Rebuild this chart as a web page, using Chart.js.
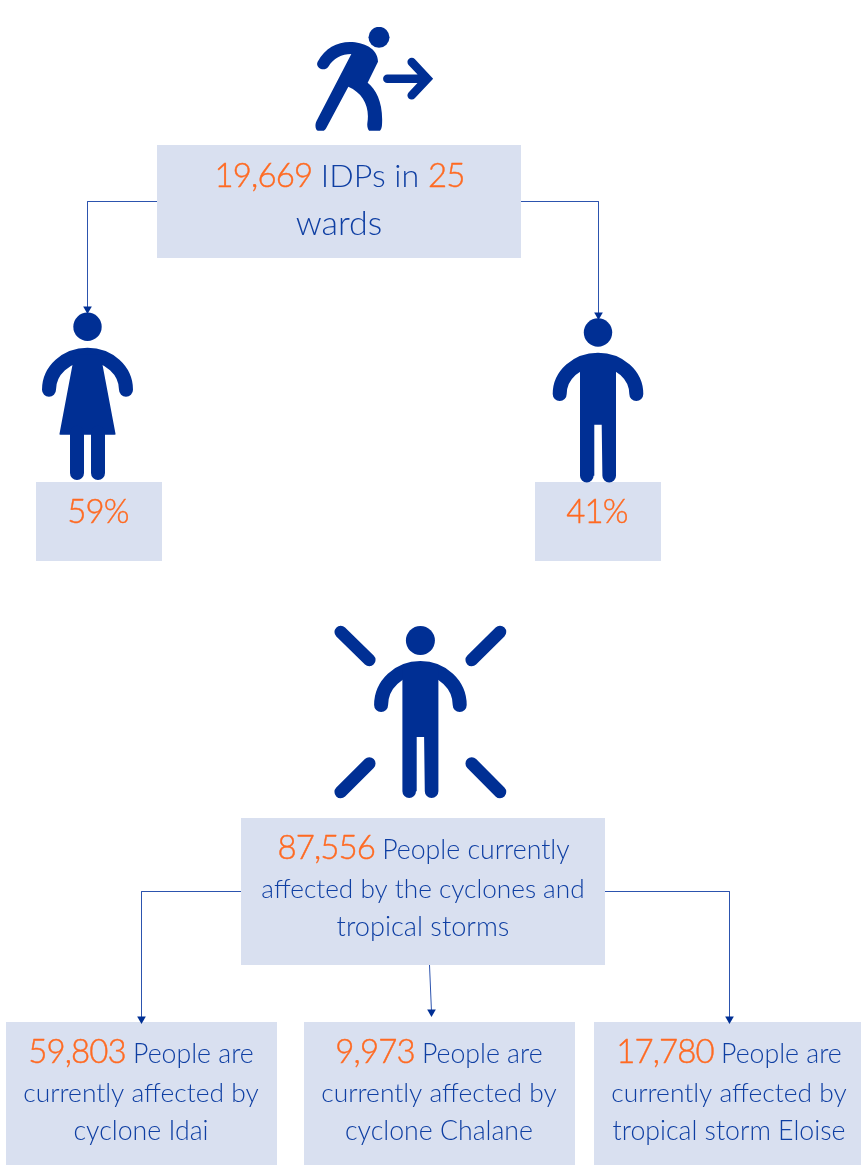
<!DOCTYPE html>
<html lang="en">
<head>
  <meta charset="UTF-8" />
  <title>IDPs and people affected by cyclones</title>
  <script src="https://cdn.jsdelivr.net/npm/chart.js"></script>
  <style>
    html, body { margin: 0; padding: 0; background: #fff; }
    canvas { display: block; }
  </style>
</head>
<body>
  <canvas id="chart" width="861" height="1165"></canvas>

  <script>
    // values
    const idpCount = [19669];
    const wardCount = [25];
    const genderShares = [59, 41];
    const totalAffected = [87556];
    const stormNames = ['cyclone Idai', 'cyclone Chalane', 'tropical storm Eloise'];
    const stormAffected = [59803, 9973, 17780];

    const NAVY = '#002F94';
    const BLUE = '#0F3FA3';
    const ORANGE = '#FF6A22';
    const BOX = '#D9E0F0';
    const LINE = '#2C53AE';

    const fmt = n => n.toLocaleString('en-US');
    const NUM = 33, TXT = 26.7;

    // connector paths, end in an arrow head
    const connectors = [
      [[157, 201.5], [87.5, 201.5], [87.5, 309]],
      [[521, 201.5], [598.5, 201.5], [598.5, 315]],
      [[241, 891.5], [141.5, 891.5], [141.5, 1019]],
      [[605, 891.5], [729.5, 891.5], [729.5, 1019]],
      [[429.5, 965], [431.5, 1012]]
    ];

    const boxes = [
      [157, 145, 521, 258],
      [36, 482, 162, 561],
      [535, 482, 661, 561],
      [241, 818, 605, 965],
      [6, 1022, 277, 1165],
      [304, 1022, 575, 1165],
      [594, 1022, 861, 1165]
    ];

    function stormLines(i, cx) {
      const last = stormNames[i];
      return [
        { cx, y: 1063, runs: [[fmt(stormAffected[i]), 1], [' People are', 0]] },
        { cx, y: 1102, size: 26.4, runs: [['currently affected by', 0]] },
        { cx, y: 1140, runs: [[last, 0]] }
      ];
    }

    const textLines = [
      { cx: 339.5, y: 187, size: 32.2, runs: [[fmt(idpCount[0]), 1], [' IDPs in ', 0], [String(wardCount[0]), 1]] },
      { cx: 339, y: 235, size: 34, runs: [['wards', 0]] },
      { cx: 98, y: 523, runs: [[genderShares[0] + '%', 1]] },
      { cx: 597, y: 523, runs: [[genderShares[1] + '%', 1]] },
      { cx: 423.5, y: 858.5, runs: [[fmt(totalAffected[0]), 1], [' People currently', 0]] },
      { cx: 423, y: 897.5, size: 26.2, runs: [['affected by the cyclones and', 0]] },
      { cx: 423, y: 936, size: 27.2, runs: [['tropical storms', 0]] },
      ...stormLines(0, 141),
      ...stormLines(1, 439),
      ...stormLines(2, 729)
    ];

    function drawLines(ctx, x, y) {
      ctx.textBaseline = 'alphabetic';
      ctx.textAlign = 'left';
      ctx.lineJoin = 'round';
      textLines.forEach(line => {
        const font = (num) => '300 ' + (num ? NUM : (line.size || TXT)) + 'px Lato';
        const spacing = (num) => num ? '-0.9px' : '0px';
        let w = 0;
        line.runs.forEach(r => {
          ctx.font = font(r[1]);
          ctx.letterSpacing = spacing(r[1]);
          w += ctx.measureText(r[0]).width;
        });
        let px = x.getPixelForValue(line.cx) - w / 2;
        const py = y.getPixelForValue(line.y);
        line.runs.forEach(r => {
          ctx.font = font(r[1]);
          ctx.letterSpacing = spacing(r[1]);
          ctx.fillStyle = r[1] ? ORANGE : BLUE;
          ctx.fillText(r[0], px, py);
          // Lato Light is a bit thin next to the original numbers
          if (r[1]) {
            ctx.strokeStyle = ORANGE;
            ctx.lineWidth = 0.4;
            ctx.strokeText(r[0], px, py);
          }
          px += ctx.measureText(r[0]).width;
        });
      });
      ctx.letterSpacing = '0px';
    }

    // standing figure, arms and legs are round stroked paths
    function person(ctx, cx, headY, p) {
      ctx.fillStyle = NAVY;
      ctx.strokeStyle = NAVY;
      ctx.lineCap = 'round';
      ctx.lineJoin = 'round';

      ctx.beginPath();
      ctx.arc(cx, headY, p.head, 0, Math.PI * 2);
      ctx.fill();

      const sy = p.shoulder + 7;
      ctx.lineWidth = 14;
      ctx.beginPath();
      ctx.ellipse(cx, p.armEnd, p.arm, p.armEnd - sy, 0, Math.PI, Math.PI * 2);
      ctx.stroke();

      if (p.dress) {
        ctx.beginPath();
        ctx.moveTo(cx - 14, sy);
        ctx.lineTo(cx + 14, sy);
        ctx.lineTo(cx + 15, p.shoulder + 17);
        ctx.lineTo(cx + 28, p.hem - 1);
        ctx.quadraticCurveTo(cx + 28.5, p.hem, cx + 27, p.hem);
        ctx.lineTo(cx - 27, p.hem);
        ctx.quadraticCurveTo(cx - 28.5, p.hem, cx - 28, p.hem - 1);
        ctx.lineTo(cx - 15, p.shoulder + 17);
        ctx.closePath();
        ctx.fill();
        ctx.beginPath();
        [-10.5, 10.5].forEach(dx => {
          ctx.moveTo(cx + dx, p.hem - 2);
          ctx.lineTo(cx + dx, p.foot - 7);
        });
        ctx.stroke();
      } else {
        // torso and legs as one outline
        const r = 6.8, gap = 3.7, fy = p.foot - r;
        ctx.beginPath();
        ctx.moveTo(cx - 18, sy);
        ctx.lineTo(cx + 18, sy);
        ctx.lineTo(cx + 18, fy);
        ctx.arc(cx + 18 - r, fy, r, 0, Math.PI);
        ctx.lineTo(cx + gap, p.crotch);
        ctx.lineTo(cx - gap, p.crotch);
        ctx.lineTo(cx - gap, fy);
        ctx.arc(cx - 18 + r, fy, r, 0, Math.PI);
        ctx.closePath();
        ctx.fill();
      }
    }

    function runner(ctx) {
      const X = v => 150 + v / 3;
      const Y = v => 10 + v / 3;
      ctx.save();
      ctx.beginPath();
      ctx.rect(300, 27, 150, 103.7);
      ctx.clip();
      ctx.fillStyle = NAVY;
      ctx.strokeStyle = NAVY;

      ctx.beginPath();
      ctx.arc(379, 37.3, 10.5, 0, Math.PI * 2);
      ctx.fill();

      ctx.beginPath();
      ctx.moveTo(X(503), Y(155));
      ctx.bezierCurveTo(X(525), Y(115), X(560), Y(96), X(600), Y(96));
      ctx.bezierCurveTo(X(640), Y(96), X(684), Y(115), X(684), Y(155));
      ctx.lineTo(X(653), Y(218));
      ctx.bezierCurveTo(X(680), Y(240), X(700), Y(280), X(696), Y(345));
      ctx.bezierCurveTo(X(694), Y(382), X(648), Y(378), X(652), Y(340));
      ctx.bezierCurveTo(X(660), Y(290), X(640), Y(250), X(595), Y(230));
      ctx.lineTo(X(530), Y(352));
      ctx.bezierCurveTo(X(516), Y(380), X(486), Y(362), X(500), Y(332));
      ctx.lineTo(X(604), Y(132));
      ctx.bezierCurveTo(X(575), Y(132), X(550), Y(145), X(535), Y(170));
      ctx.bezierCurveTo(X(522), Y(188), X(494), Y(172), X(503), Y(155));
      ctx.fill();

      ctx.lineWidth = 8.5;
      ctx.lineCap = 'round';
      ctx.lineJoin = 'miter';
      ctx.beginPath();
      ctx.moveTo(X(712), Y(206));
      ctx.lineTo(X(825), Y(206));
      ctx.moveTo(X(785), Y(156));
      ctx.lineTo(X(832), Y(206));
      ctx.lineTo(X(785), Y(256));
      ctx.stroke();
      ctx.restore();
    }

    function rays(ctx) {
      ctx.strokeStyle = NAVY;
      ctx.lineCap = 'round';
      ctx.lineWidth = 12.5;
      ctx.beginPath();
      [
        [340.7, 632, 369.3, 660],
        [500, 632, 471.7, 660],
        [369.3, 763.5, 340.7, 792],
        [471.7, 763.5, 500, 792]
      ].forEach(r => {
        ctx.moveTo(r[0], r[1]);
        ctx.lineTo(r[2], r[3]);
      });
      ctx.stroke();
    }

    const infographic = {
      id: 'infographic',
      beforeDatasetsDraw(chart) {
        const { ctx, scales: { x, y } } = chart;
        ctx.save();
        ctx.fillStyle = BOX;
        boxes.forEach(b => {
          const l = x.getPixelForValue(b[0]), t = y.getPixelForValue(b[1]);
          ctx.fillRect(l, t, x.getPixelForValue(b[2]) - l, y.getPixelForValue(b[3]) - t);
        });
        ctx.restore();
      },
      afterDatasetsDraw(chart) {
        const { ctx, scales: { x, y } } = chart;
        ctx.save();
        runner(ctx);
        person(ctx, 87.5, 326.8, { head: 14.2, shoulder: 347.7, arm: 38.5, armEnd: 389.7, dress: true, hem: 434.7, foot: 480 });
        person(ctx, 598, 332.5, { head: 14.2, shoulder: 352.7, arm: 38.3, armEnd: 394, crotch: 424.7, foot: 482.5 });
        person(ctx, 420.4, 640.4, { head: 14.5, shoulder: 661, arm: 39.3, armEnd: 705, crotch: 737, foot: 798 });
        rays(ctx);
        drawLines(ctx, x, y);
        ctx.restore();
      }
    };

    new Chart(document.getElementById('chart'), {
      type: 'scatter',
      data: {
        datasets: connectors.map(path => ({
          data: path.map(p => ({ x: p[0], y: p[1] })),
          showLine: true,
          tension: 0,
          borderColor: LINE,
          borderWidth: 1,
          pointStyle: 'triangle',
          pointRotation: 180,
          pointBackgroundColor: NAVY,
          pointBorderWidth: 0,
          pointRadius: path.map((p, i) => i === path.length - 1 ? 5 : 0)
        }))
      },
      options: {
        responsive: false,
        animation: false,
        layout: { padding: 0, autoPadding: false },
        events: [],
        plugins: { legend: { display: false }, tooltip: { enabled: false } },
        scales: {
          x: { type: 'linear', display: false, min: 0, max: 861 },
          y: { type: 'linear', display: false, min: 0, max: 1165, reverse: true }
        }
      },
      plugins: [infographic]
    });
  </script>
</body>
</html>
